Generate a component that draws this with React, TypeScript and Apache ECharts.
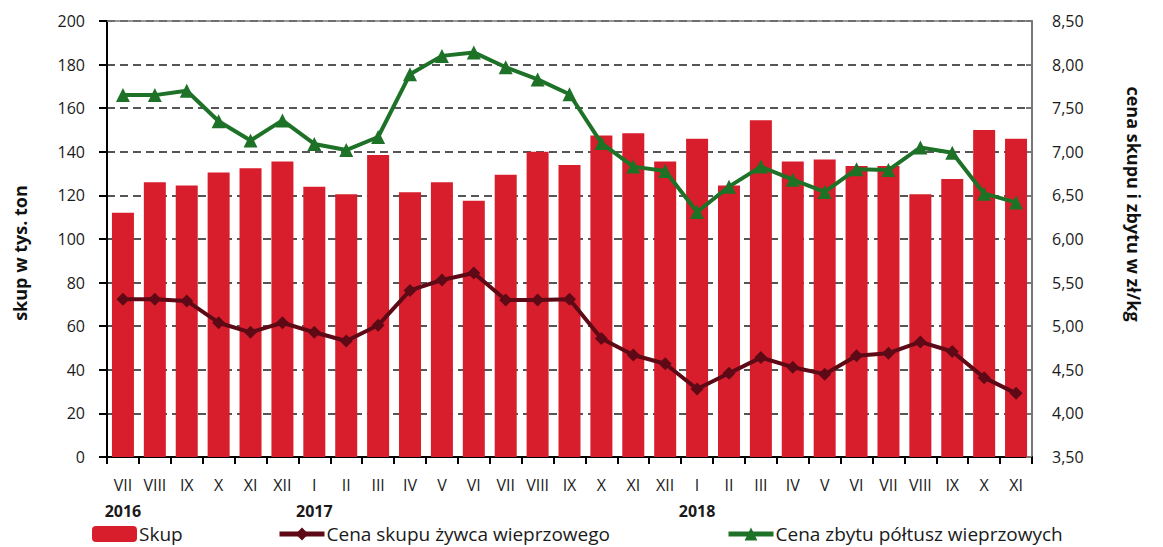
import React, { useEffect, useRef } from "react";
import * as echarts from "echarts";

const months = ["VII","VIII","IX","X","XI","XII","I","II","III","IV","V","VI","VII","VIII","IX","X","XI","XII","I","II","III","IV","V","VI","VII","VIII","IX","X","XI"];
const years: Record<number, string> = { 0: "2016", 6: "2017", 18: "2018" };
const skup = [112,126,124.5,130.5,132.5,135.5,124,120.5,138.5,121.5,126,117.5,129.5,140,134,147.5,148.5,135.5,146,124.5,154.5,135.5,136.5,133.5,133.5,120.5,127.5,150,146];
const cenaZywca = [5.31,5.31,5.29,5.04,4.93,5.04,4.93,4.83,5.01,5.41,5.53,5.61,5.30,5.30,5.31,4.86,4.67,4.57,4.28,4.46,4.64,4.53,4.45,4.66,4.69,4.82,4.71,4.41,4.23];
const cenaPoltusz = [7.65,7.65,7.70,7.35,7.13,7.36,7.09,7.02,7.17,7.89,8.10,8.14,7.97,7.83,7.66,7.10,6.83,6.78,6.31,6.60,6.83,6.68,6.54,6.80,6.79,7.05,6.99,6.52,6.42];
const leftTicks = { min: 0, max: 200, interval: 20 };
const rightTicks = { min: 3.5, max: 8.5, interval: 0.5 };
const leftTitle = "skup w tys. ton";
const rightTitle = "cena skupu i zbytu w zł/kg";

const FONT = "'Open Sans', Lato, sans-serif";
const RED = "#d81e2c";
const DARK = "#5e0a16";
const GREEN = "#1e7228";

export default function App() {
  const ref = useRef<HTMLDivElement>(null);
  useEffect(() => {
    if (!ref.current) return;
    const chart = echarts.init(ref.current, undefined, { renderer: "svg" });
    const axisText = { color: "#1a1a1a", fontSize: 16, fontFamily: FONT };
    const legendText = { fontSize: 19, lineHeight: 20, color: "#1a1a1a", fontFamily: FONT, padding: [0, 0, 0, -3] };
    chart.setOption({
      animation: false,
      textStyle: { fontFamily: FONT },
      grid: { left: 107, right: 131, top: 21, bottom: 90, containLabel: false },
      graphic: [
        {
          type: "text", x: 20, y: 253, rotation: Math.PI / 2,
          style: { text: leftTitle, fontSize: 18, fontWeight: "bold", fill: "#111", fontFamily: FONT, align: "center", verticalAlign: "middle" },
        },
        {
          type: "text", x: 1134, y: 204, rotation: -Math.PI / 2,
          style: { text: rightTitle, fontSize: 18, fontWeight: "bold", fill: "#111", fontFamily: FONT, align: "center", verticalAlign: "middle" },
        },
      ],
      legend: [
        { data: ["Skup"], left: 92, top: 524, padding: 0, itemWidth: 45, itemHeight: 16, textStyle: legendText },
        { data: ["Cena skupu żywca wieprzowego"], left: 277, top: 524, padding: 0, itemWidth: 45, itemHeight: 16,
          lineStyle: { width: 5 }, textStyle: legendText },
        { data: ["Cena zbytu półtusz wieprzowych"], left: 726, top: 524, padding: 0, itemWidth: 45, itemHeight: 16,
          lineStyle: { width: 5 }, textStyle: legendText },
      ],
      xAxis: [
        {
          type: "category",
          data: months,
          boundaryGap: true,
          axisLine: { lineStyle: { color: "#000", width: 2 } },
          axisTick: { show: true, alignWithLabel: false, length: 7, lineStyle: { color: "#000", width: 2 } },
          axisLabel: {
            interval: 0,
            margin: 19,
            formatter: (v: string, i: number) => (years[i] ? `{m|${v}}\n{y|${years[i]}}` : `{m|${v}}`),
            rich: {
              m: { fontSize: 16, color: "#1a1a1a", fontFamily: FONT, lineHeight: 18 },
              y: { fontSize: 16, color: "#1a1a1a", fontFamily: FONT, fontWeight: "bold", lineHeight: 34 },
            },
          },
        },
        {
          type: "category",
          data: months,
          position: "top",
          axisLine: { show: true, lineStyle: { color: "#777", width: 1.5 } },
          axisTick: { show: false },
          axisLabel: { show: false },
        },
      ],
      yAxis: [
        {
          type: "value",
          ...leftTicks,
          position: "left",
          axisLine: { show: true, lineStyle: { color: "#000", width: 2 } },
          axisTick: { show: true, length: 8, lineStyle: { color: "#000", width: 2 } },
          axisLabel: { ...axisText, margin: 22 },
          splitLine: { show: true, lineStyle: { color: "#555", width: 2, type: [8, 5] } },
        },
        {
          type: "value",
          ...rightTicks,
          position: "right",
          axisLine: { show: true, lineStyle: { color: "#777", width: 2 } },
          axisTick: { show: true, inside: true, length: 6, lineStyle: { color: "#777", width: 2 } },
          axisLabel: { ...axisText, margin: 20, formatter: (v: number) => v.toFixed(2).replace(".", ",") },
          splitLine: { show: false },
        },
      ],
      series: [
        {
          name: "Skup",
          type: "bar",
          data: skup,
          barWidth: 22,
          itemStyle: { color: RED },
          z: 2,
        },
        {
          name: "Cena skupu żywca wieprzowego",
          type: "line",
          yAxisIndex: 1,
          data: cenaZywca,
          symbol: "diamond",
          symbolSize: 13,
          lineStyle: { color: DARK, width: 4 },
          itemStyle: { color: DARK },
          z: 3,
        },
        {
          name: "Cena zbytu półtusz wieprzowych",
          type: "line",
          yAxisIndex: 1,
          data: cenaPoltusz,
          symbol: "triangle",
          symbolSize: 14,
          lineStyle: { color: GREEN, width: 4 },
          itemStyle: { color: GREEN },
          z: 4,
        },
      ],
    });
    return () => chart.dispose();
  }, []);
  return <div ref={ref} style={{ position: "absolute", left: 0, top: 0, width: 1163, height: 547 }} />;
}
